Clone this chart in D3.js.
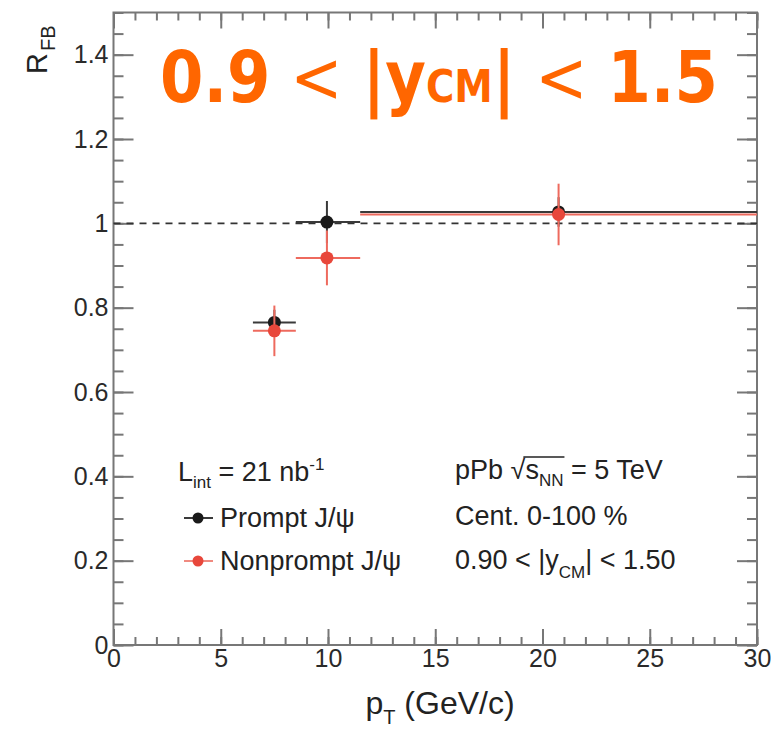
<!DOCTYPE html>
<html>
<head>
<meta charset="utf-8">
<script src="https://cdn.jsdelivr.net/npm/d3@7"></script>
<style>
  html, body { margin: 0; padding: 0; background: #fff; }
  svg { display: block; }
</style>
</head>
<body>
<div id="chart"></div>
<script>
// ---- data ----
const ptLow  = [6.5, 8.5, 11.5];
const ptHigh = [8.5, 11.5, 30];
const ptMean = [7.5, 9.95, 20.75];
const promptVal = [0.765, 1.003, 1.027];
const promptErr = [0.03, 0.05, 0.035];
const nonpromptVal = [0.745, 0.918, 1.021];
const nonpromptErr = [0.06, 0.065, 0.073];
const xTickValues = [0, 5, 10, 15, 20, 25, 30];
const xTickLabels = ["0", "5", "10", "15", "20", "25", "30"];
const yTickValues = [0, 0.2, 0.4, 0.6, 0.8, 1.0, 1.2, 1.4];
const yTickLabels = ["0", "0.2", "0.4", "0.6", "0.8", "1", "1.2", "1.4"];
const seriesNames = ["Prompt J/\u03C8", "Nonprompt J/\u03C8"];

// ---- layout ----
const W = 771, H = 731;
const L = 113.5, R = 757, T = 12.5, B = 645;
const svg = d3.select("#chart").append("svg").attr("width", W).attr("height", H);

const x = d3.scaleLinear().domain([0, 30]).range([L, R]);
const y = d3.scaleLinear().domain([0, 1.5]).range([B, T]);

const axisColor = "#777";
const font = "'Liberation Sans', Arial, Helvetica, sans-serif";

function styleAxis(g) {
  g.select(".domain").remove();
  g.selectAll(".tick line").attr("stroke", axisColor).attr("stroke-width", 2);
  g.selectAll(".tick text").attr("fill", "#2a2a2a").style("font-family", font).style("font-size", "25px");
}

const xMinor = d3.range(0, 30.001, 1);
const yMinor = d3.range(0, 1.5001, 0.05);

// minor ticks
svg.append("g").attr("transform", `translate(0,${B})`)
  .call(d3.axisBottom(x).tickValues(xMinor).tickSize(-8).tickFormat("")).call(styleAxis);
svg.append("g").attr("transform", `translate(0,${T})`)
  .call(d3.axisTop(x).tickValues(xMinor).tickSize(-8).tickFormat("")).call(styleAxis);
svg.append("g").attr("transform", `translate(${L},0)`)
  .call(d3.axisLeft(y).tickValues(yMinor).tickSize(-10).tickFormat("")).call(styleAxis);
svg.append("g").attr("transform", `translate(${R},0)`)
  .call(d3.axisRight(y).tickValues(yMinor).tickSize(-10).tickFormat("")).call(styleAxis);

// major ticks
svg.append("g").attr("transform", `translate(0,${B})`)
  .call(d3.axisBottom(x).tickValues(xTickValues).tickSize(-16).tickPadding(4)
    .tickFormat((d, i) => xTickLabels[i])).call(styleAxis);
svg.append("g").attr("transform", `translate(0,${T})`)
  .call(d3.axisTop(x).tickValues(xTickValues).tickSize(-16).tickFormat("")).call(styleAxis);
svg.append("g").attr("transform", `translate(${L},0)`)
  .call(d3.axisLeft(y).tickValues(yTickValues).tickSize(-20).tickPadding(5)
    .tickFormat((d, i) => yTickLabels[i])).call(styleAxis);
svg.append("g").attr("transform", `translate(${R},0)`)
  .call(d3.axisRight(y).tickValues(yTickValues).tickSize(-20).tickFormat("")).call(styleAxis);

// frame
svg.append("rect").attr("x", L).attr("y", T).attr("width", R - L).attr("height", B - T)
  .attr("fill", "none").attr("stroke", axisColor).attr("stroke-width", 2);

// reference dashed line at 1
svg.append("line").attr("x1", x(0)).attr("x2", x(30)).attr("y1", y(1)).attr("y2", y(1))
  .attr("stroke", "#333").attr("stroke-width", 1.6).attr("stroke-dasharray", "7,6");

// ---- data series ----
function drawSeries(vals, errs, lineColor, dotColor) {
  const g = svg.append("g");
  vals.forEach((v, i) => {
    g.append("line").attr("x1", x(ptLow[i])).attr("x2", x(ptHigh[i]))
      .attr("y1", y(v)).attr("y2", y(v)).attr("stroke", lineColor).attr("stroke-width", 2);
    g.append("line").attr("x1", x(ptMean[i])).attr("x2", x(ptMean[i]))
      .attr("y1", y(v - errs[i])).attr("y2", y(v + errs[i])).attr("stroke", lineColor).attr("stroke-width", 2);
    g.append("circle").attr("cx", x(ptMean[i])).attr("cy", y(v)).attr("r", 6.5).attr("fill", dotColor);
  });
}
drawSeries(promptVal, promptErr, "#3a3a3a", "#1a1a1a");
drawSeries(nonpromptVal, nonpromptErr, "#ee6a5e", "#e8473b");

// ---- legend ----
const legend = svg.append("g").style("font-family", font).style("font-size", "27px").attr("fill", "#222");
const lint = legend.append("text").attr("x", 178).attr("y", 481);
lint.append("tspan").text("L");
lint.append("tspan").attr("dy", 7).style("font-size", "17px").text("int");
lint.append("tspan").attr("dy", -7).text(" = 21 nb");
lint.append("tspan").attr("dy", -11).style("font-size", "17px").text("-1");

const legY = [527, 570];
const legLine = ["#3a3a3a", "#f08a80"];
const legDot = ["#1a1a1a", "#e8473b"];
seriesNames.forEach((name, i) => {
  legend.append("line").attr("x1", 184).attr("x2", 213).attr("y1", legY[i] - 9).attr("y2", legY[i] - 9)
    .attr("stroke", legLine[i]).attr("stroke-width", 2);
  legend.append("circle").attr("cx", 198).attr("cy", legY[i] - 9).attr("r", 5.5).attr("fill", legDot[i]);
  legend.append("text").attr("x", 220).attr("y", legY[i]).text(name);
});

const t1 = legend.append("text").attr("x", 455).attr("y", 479);
t1.append("tspan").text("pPb \u221A");
t1.append("tspan").text("s");
t1.append("tspan").attr("dy", 7).style("font-size", "17px").text("NN");
t1.append("tspan").attr("dy", -7).text(" = 5 TeV");
{
  const n = t1.node();
  const s0 = n.getStartPositionOfChar(5);
  const e0 = n.getEndPositionOfChar(7);
  legend.append("line").attr("x1", s0.x - 2).attr("x2", e0.x + 1)
    .attr("y1", 479 - 22).attr("y2", 479 - 22).attr("stroke", "#222").attr("stroke-width", 1.5);
}
legend.append("text").attr("x", 455).attr("y", 525).text("Cent. 0-100 %");
const t3 = legend.append("text").attr("x", 455).attr("y", 569);
t3.append("tspan").text("0.90 < |y");
t3.append("tspan").attr("dy", 9).style("font-size", "17px").text("CM");
t3.append("tspan").attr("dy", -9).text("| < 1.50");

// ---- axis titles ----
const xt = svg.append("text").attr("x", 440).attr("y", 714).attr("text-anchor", "middle")
  .style("font-family", font).style("font-size", "32px").attr("fill", "#222");
xt.append("tspan").text("p");
xt.append("tspan").attr("dy", 10).style("font-size", "20px").text("T");
xt.append("tspan").attr("dy", -10).text(" (GeV/c)");

const yt = svg.append("text").attr("transform", "translate(47,74) rotate(-90)")
  .style("font-family", font).style("font-size", "29px").attr("fill", "#222");
yt.append("tspan").text("R");
yt.append("tspan").attr("dy", 8).attr("dx", 2).style("font-size", "20px").text("FB");

// ---- big orange title ----
const title = svg.append("text").attr("x", 0).attr("y", 102)
  .style("font-family", "'DejaVu Sans', Verdana, sans-serif").style("font-size", "71px")
  .attr("fill", "#ff6600");
title.append("tspan").style("font-weight", "bold").text("0.9");
title.append("tspan").style("font-weight", "normal").text(" < ");
title.append("tspan").style("font-weight", "bold").text("|y");
title.append("tspan").style("font-weight", "bold").style("font-size", "44px").text("CM");
title.append("tspan").style("font-weight", "bold").text("|");
title.append("tspan").style("font-weight", "normal").text(" < ");
title.append("tspan").style("font-weight", "bold").text("1.5");
{
  const bb = title.node().getBBox();
  const target0 = 160, target1 = 718;
  const sx = (target1 - target0) / bb.width;
  title.attr("transform", `translate(${target0 - bb.x * sx},0) scale(${sx},1)`);
}
</script>
</body>
</html>
